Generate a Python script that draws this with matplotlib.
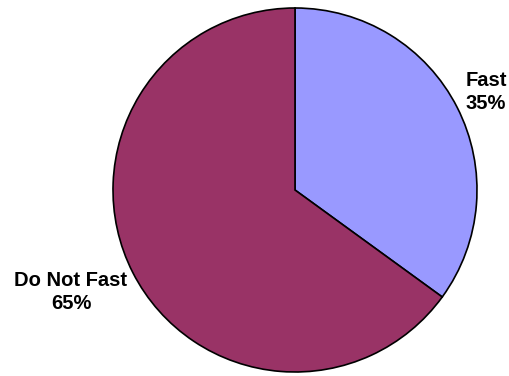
import matplotlib.pyplot as plt

plt.rcParams['font.family'] = ['Liberation Sans', 'DejaVu Sans']

categories = ['Fast', 'Do Not Fast']
shares = [35, 65]
colors = ['#9999FF', '#993366']

fig = plt.figure(figsize=(5.09, 3.76), dpi=100)
ax = fig.add_axes([0, 0, 1, 1])

cx, cy, r = 295, 186, 182
wedges, _ = ax.pie(shares, colors=colors, startangle=90, counterclock=False,
                   center=(cx, cy), radius=r,
                   wedgeprops=dict(edgecolor='black', linewidth=1.2))
ax.set_xlim(0, 509)
ax.set_ylim(0, 376)
ax.set_aspect('equal')
ax.axis('off')

# label centres (axes pixels, origin bottom-left)
label_xy = [(486, 284), (71, 84)]
for name, val, (x, y) in zip(categories, shares, label_xy):
    ax.text(x, y, f'{name}\n{val}%', ha='center', va='center',
            fontsize=14.5, fontweight='bold', linespacing=1.3)

fig.savefig('out.png', dpi=100)
